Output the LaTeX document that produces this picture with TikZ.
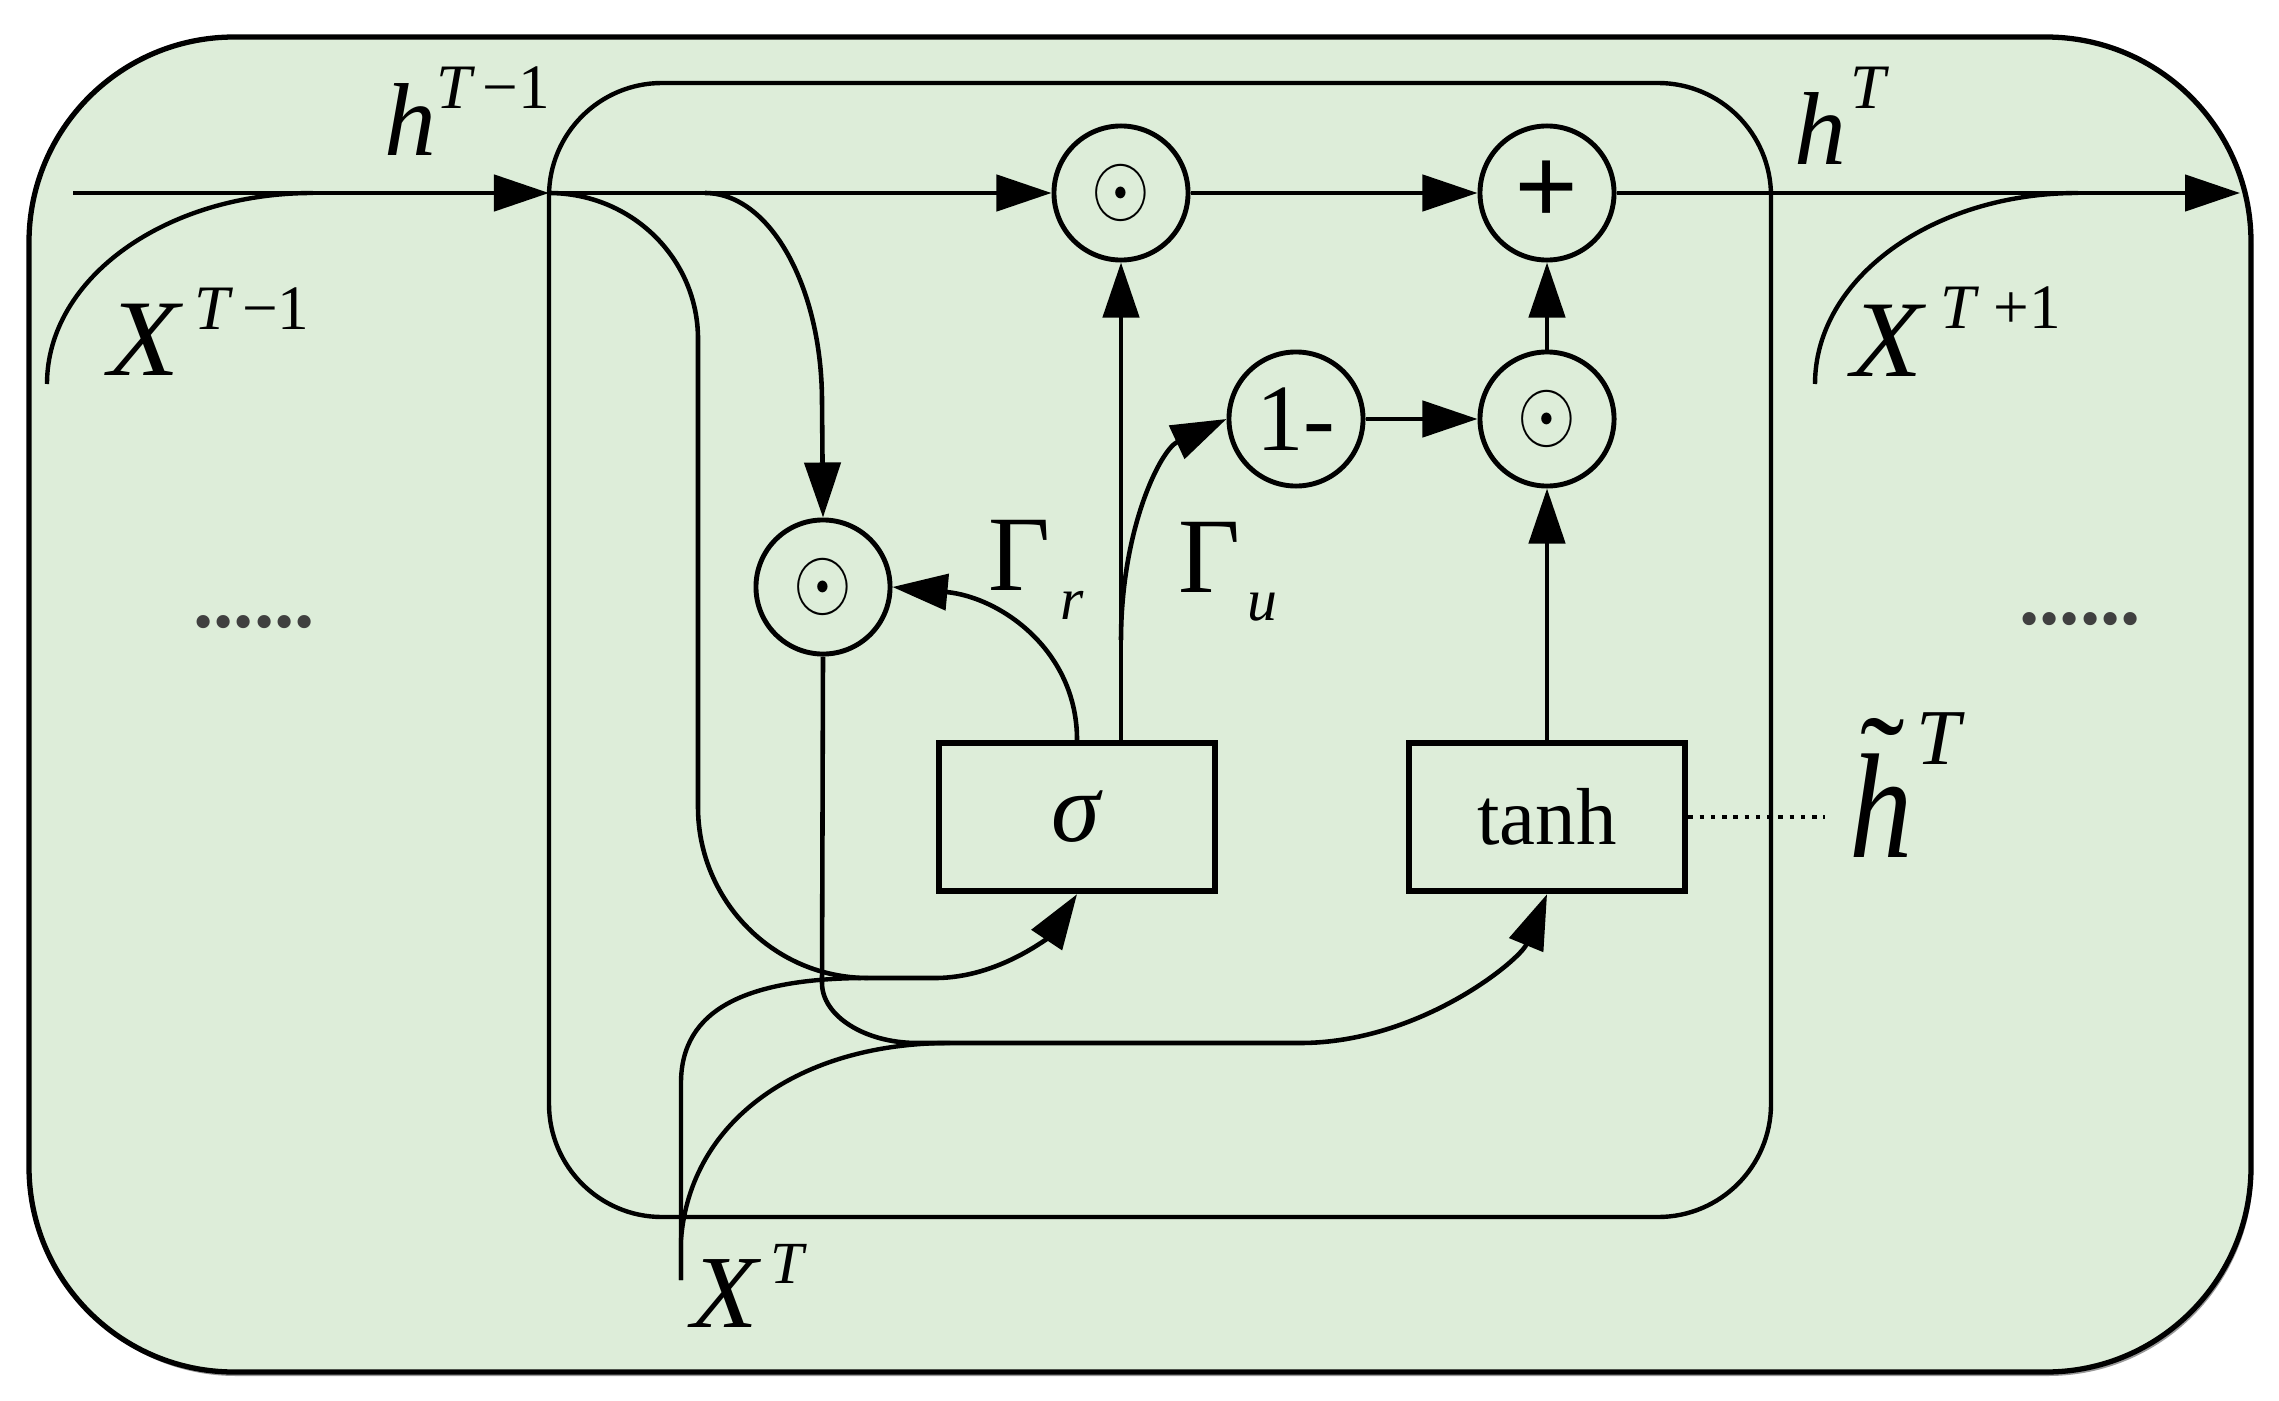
\documentclass[tikz,border=0pt]{standalone}
\usepackage{fontspec}
\setmainfont{Liberation Serif}
\usetikzlibrary{arrows.meta}
\definecolor{bg}{RGB}{221,237,217}
\newcommand{\mysup}{\fontsize{18}{18}\selectfont}
\newcommand{\mysub}{\fontsize{17}{17}\selectfont}
\newcommand{\odotsym}{\scalebox{2.15}[2.45]{$\odot$}}
\newcommand{\bigX}{\scalebox{1.07}[1]{\textit{X}}}
\begin{document}
\begin{tikzpicture}[x=0.01cm,y=-0.01cm,
  ln/.style={line width=1.25pt},
  arr/.style={line width=1.3pt,-{Triangle[length=5.5mm,width=3.6mm]}},
  op/.style={circle,draw,line width=1.4pt,minimum size=1.34cm,inner sep=0pt},
  blk/.style={rectangle,draw,line width=1.8pt,minimum width=2.76cm,minimum height=1.48cm,inner sep=0pt},
  lab/.style={inner sep=0pt,anchor=base west,font=\fontsize{29.5}{30}\selectfont},
  labx/.style={inner sep=0pt,anchor=base west,font=\fontsize{31}{31}\selectfont},
  gam/.style={inner sep=0pt,anchor=base west,font=\fontsize{30.5}{31}\selectfont},
  dotslab/.style={inner sep=0pt,text=black!75,font=\fontsize{23}{24}\selectfont\bfseries}]
\useasboundingbox (0,0) rectangle (2279,1400);
% outer cell
\fill[black!40,rounded corners=2.05cm] (31,41) rectangle (2253,1376);
\draw[line width=1.5pt,fill=bg,rounded corners=2.05cm] (29,37) rectangle (2251,1372);
% inner cell
\draw[ln,rounded corners=1.13cm] (549,83) rectangle (1771,1217);

% operation nodes
\node[op] (m1) at (1121,193) {\odotsym};
\node[op] (plus) at (1547,193) {\fontsize{32}{32}\selectfont\textbf{+}};
\node[op] (m3) at (1547,419) {\odotsym};
\node[op] (m4) at (1296,419) {\fontsize{27}{27}\selectfont 1-};
\node[op] (m5) at (823,587) {\odotsym};
\node[blk] (sig) at (1077,817) {\fontsize{28}{28}\selectfont\textit{σ}};
\node[blk] (tanh) at (1547,817) {\fontsize{23}{23}\selectfont tanh};

% coordinates
\coordinate (hin) at (73,193);
\coordinate (j1) at (549,193);
\coordinate (br1) at (705,193);
\coordinate (hout) at (2240,193);
\coordinate (xprevin) at (47,384);
\coordinate (xprevj) at (313,193);
\coordinate (xnextin) at (1815,384);
\coordinate (xnextj) at (2078,193);
\coordinate (xt) at (681,1280);
\coordinate (dotend) at (1825,817);

% main state line
\draw[arr] (hin) -- (j1);
\draw[arr] (j1) -- (m1.west);
\draw[arr] (m1.east) -- (plus.west);
\draw[arr] (plus.east) -- (hout);
\draw[ln] (xprevin) .. controls (47,278) and (166,193) .. (xprevj);
\draw[ln] (xnextin) .. controls (1815,278) and (1933,193) .. (xnextj);

% h^{T-1} -> sigma
\draw[arr] (j1) .. controls (631,193) and (698,258) .. (698,339) -- (698,807)
  .. controls (698,901) and (774,978) .. (868,978) -- (935,978)
  .. controls (1000,978) and (1050,935) .. (sig.south);
% x^T -> sigma
\draw[ln] (xt) -- (681,1083) .. controls (681,1010) and (745,978) .. (868,978);
% x^T -> tanh
\draw[ln] (xt) -- (681,1240) .. controls (690,1120) and (800,1043) .. (950,1043);
% h^{T-1} -> reset product
\draw[arr] (br1) .. controls (770,193) and (822,287) .. (822,402) -- (m5.north);
% reset product -> tanh
\draw[arr] (m5.south) -- (822,983) .. controls (822,1016) and (865,1043) .. (917,1043)
  -- (1300,1043) .. controls (1420,1043) and (1520,960) .. (tanh.south);
% gates
\draw[arr] (sig.north -| m1) -- (m1.south);
\draw[arr] (sig.north) .. controls (1077,650) and (1000,597) .. (m5.east);
\draw[arr] (1121,640) .. controls (1121,530) and (1160,450) .. (m4.west);
\draw[arr] (m4.east) -- (m3.west);
\draw[arr] (m3.north) -- (plus.south);
\draw[arr] (tanh.north) -- (m3.south);
\draw[line width=1.3pt,dash pattern=on 1.3pt off 1.9pt] (tanh.east) -- (dotend);

% labels
\node[lab] (lhprev) at (384,156) {\textit{h}\raisebox{13.4pt}{\mysup\textit{T}\kern2pt−1}};
\node[labx] (lxprev) at (108,375) {\bigX\kern3pt\raisebox{12.8pt}{\mysup\textit{T}\kern2.5pt−1}};
\node[lab] (lh) at (1794,165) {\textit{h}\kern1pt\raisebox{16pt}{\mysup\textit{T}}};
\node[labx] (lxnext) at (1851,376) {\bigX\kern4pt\raisebox{13.4pt}{\mysup\textit{T}\kern4pt+1}};
\node[lab] (lxt) at (691,1327) {\scalebox{1.05}[1]{\textit{X}}\kern2.4pt\raisebox{12.5pt}{\fontsize{17}{17}\selectfont\textit{T}}};
\node[inner sep=0pt,anchor=base west,font=\fontsize{36}{36}\selectfont] (lht) at (1849,857)
  {\rlap{\kern3.1pt\raisebox{13.7pt}{\fontsize{38}{38}\selectfont\upshape ˜}}\scalebox{1}[1.18]{\textit{h}}\kern1pt\raisebox{26.2pt}{\fontsize{22.5}{22.5}\selectfont\textit{T}}};
\node[gam] (lgr) at (988,590) {Γ\kern2.8pt\raisebox{-8.5pt}{\mysub\textit{r}}};
\node[gam] (lgu) at (1178,592) {Γ\kern2pt\raisebox{-8pt}{\mysub\textit{u}}};
\node[dotslab] (dl) at (254,622) {......};
\node[dotslab] (dr) at (2080,619) {......};
\end{tikzpicture}
\end{document}
